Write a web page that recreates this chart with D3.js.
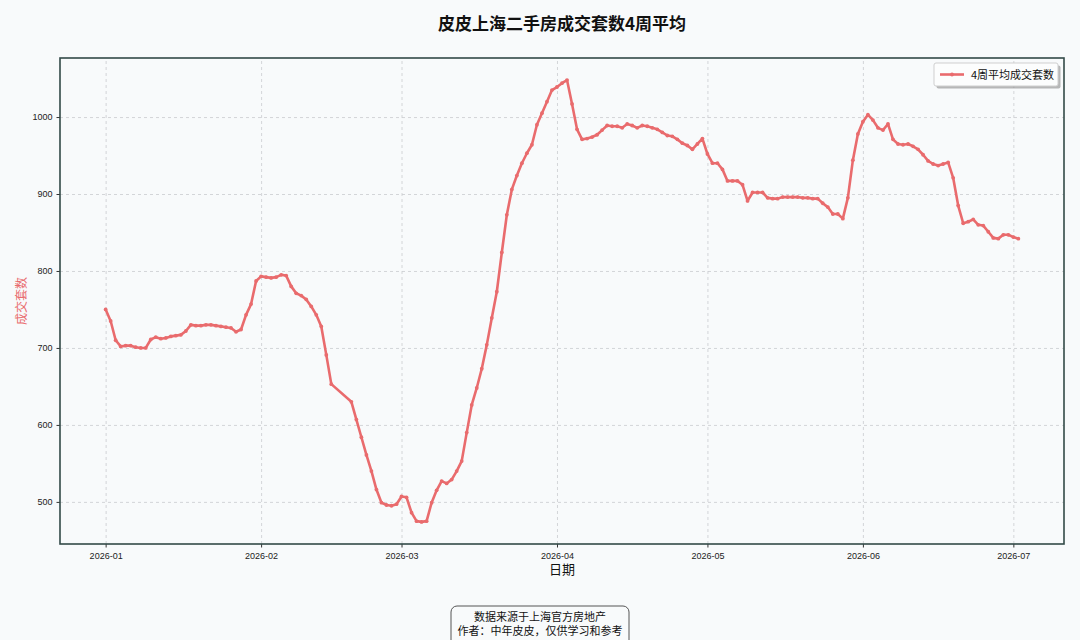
<!DOCTYPE html>
<meta charset="utf-8">
<style>
body { margin: 0; background: #f8fafb; }
svg { display: block; font-family: "Noto Sans CJK SC", "Noto Sans", sans-serif; }
.grid line { stroke: #c9cccf; stroke-dasharray: 3,3; stroke-width: 0.8; }
.axis path { display: none; }
.axis line { stroke: #333; }
.axis text { fill: #222; font-size: 9px; }
</style>
<svg width="1080" height="640"></svg>
<script src="https://d3js.org/d3.v7.min.js"></script>
<script>

// first day of the series, one value per day (null = no data that day)
var startDate = "2026-01-01";
var values = [
  750, 735, 710, 702, 703, 703, 701, 700, 700, 711,
  714, 712, 713, 715, 716, 717, 722, 730, 729, 729,
  730, 730, 729, 728, 727, 726, 721, 724, 743, 757,
  787, 793, 792, 791, 792, 795, 794, 780, 771, 768,
  763, 754, 743, 728, 691, 653, null, null, null, 630,
  607, 584, 561, 540, 516, 499, 496, 495, 497, 507,
  506, 486, 475, 474, 475, 499, 515, 527, 524, 529,
  540, 553, 590, 626, 648, 673, 704, 739, 773, 824,
  873, 906, 924, 940, 953, 964, 990, 1005, 1020, 1035,
  1039, 1044, 1048, 1017, 984, 971, 972, 974, 977, 983,
  989, 988, 988, 986, 991, 989, 986, 989, 988, 986,
  984, 980, 976, 975, 971, 966, 963, 958, 965, 972,
  952, 940, 940, 932, 917, 917, 917, 912, 891, 902,
  902, 902, 895, 894, 894, 896, 896, 896, 896, 895,
  895, 894, 894, 888, 883, 874, 874, 868, 895, 944,
  978, 994, 1003, 996, 986, 983, 991, 971, 965, 964,
  965, 962, 958, 951, 943, 939, 937, 939, 941, 921,
  885, 862, 864, 867, 860, 859, 851, 843, 842, 847,
  847, 844, 842
];
var yTicks = [500, 600, 700, 800, 900, 1000];
var xTicks = ["2026-01-01", "2026-02-01", "2026-03-01", "2026-04-01", "2026-05-01", "2026-06-01", "2026-07-01"];

var title = "皮皮上海二手房成交套数4周平均";
var seriesName = "4周平均成交套数";
var footer = ["数据来源于上海官方房地产", "作者：中年皮皮，仅供学习和参考"];
var lineColor = "#e96b6d";

var parse = d3.utcParse("%Y-%m-%d");
var t0 = parse(startDate);
var data = [];
values.forEach(function(v, i) {
  if (v !== null) data.push({ date: d3.utcDay.offset(t0, i), value: v });
});

var svg = d3.select("svg");
var box = {left: 60, right: 1064, top: 58, bottom: 544};

// matplotlib-like 5% margins on both axes
var xe = d3.extent(data, function(d) { return d.date; });
var xpad = (xe[1] - xe[0]) * 0.05;
var x = d3.scaleUtc()
  .domain([new Date(+xe[0] - xpad), new Date(+xe[1] + xpad)])
  .range([box.left, box.right]);

var ye = d3.extent(data, function(d) { return d.value; });
var ypad = (ye[1] - ye[0]) * 0.05;
var y = d3.scaleLinear()
  .domain([ye[0] - ypad, ye[1] + ypad])
  .range([box.bottom, box.top]);

svg.append("rect")
  .attr("width", 1080).attr("height", 640)
  .attr("fill", "#f8fafb");

// grid
svg.append("g")
  .attr("class", "grid")
  .attr("transform", "translate(0," + box.bottom + ")")
  .call(d3.axisBottom(x).tickValues(xTicks.map(parse)).tickSize(-(box.bottom - box.top)).tickFormat(""))
  .call(function(g) { g.select(".domain").remove(); });

svg.append("g")
  .attr("class", "grid")
  .attr("transform", "translate(" + box.left + ",0)")
  .call(d3.axisLeft(y).tickValues(yTicks).tickSize(-(box.right - box.left)).tickFormat(""))
  .call(function(g) { g.select(".domain").remove(); });

// axes
svg.append("g")
  .attr("class", "axis")
  .attr("transform", "translate(0," + box.bottom + ")")
  .call(d3.axisBottom(x).tickValues(xTicks.map(parse)).tickSize(3.5).tickPadding(5)
    .tickFormat(d3.utcFormat("%Y-%m")));

svg.append("g")
  .attr("class", "axis")
  .attr("transform", "translate(" + box.left + ",0)")
  .call(d3.axisLeft(y).tickValues(yTicks).tickSize(3.5).tickPadding(4).tickFormat(d3.format("d")));

// series
var line = d3.line()
  .x(function(d) { return x(d.date); })
  .y(function(d) { return y(d.value); });

svg.append("path")
  .datum(data)
  .attr("fill", "none")
  .attr("stroke", lineColor)
  .attr("stroke-width", 2.6)
  .attr("stroke-linejoin", "round")
  .attr("d", line);

svg.append("g")
  .selectAll("circle")
  .data(data)
  .enter().append("circle")
  .attr("cx", function(d) { return x(d.date); })
  .attr("cy", function(d) { return y(d.value); })
  .attr("r", 1.9)
  .attr("fill", lineColor);

// frame
svg.append("rect")
  .attr("x", box.left).attr("y", box.top)
  .attr("width", box.right - box.left).attr("height", box.bottom - box.top)
  .attr("fill", "none")
  .attr("stroke", "#324a48")
  .attr("stroke-width", 1.6);

// titles
svg.append("text")
  .attr("x", 562).attr("y", 30)
  .attr("text-anchor", "middle")
  .attr("font-size", 17).attr("font-weight", "bold")
  .attr("fill", "#111")
  .text(title);

svg.append("text")
  .attr("x", 562).attr("y", 574)
  .attr("text-anchor", "middle")
  .attr("font-size", 13)
  .attr("fill", "#111")
  .text("日期");

svg.append("text")
  .attr("transform", "translate(26," + ((box.top + box.bottom) / 2) + ") rotate(-90)")
  .attr("text-anchor", "middle")
  .attr("font-size", 12)
  .attr("fill", lineColor)
  .text("成交套数");

// legend
var lg = svg.append("g").attr("transform", "translate(934,63)");
lg.append("rect")
  .attr("x", 2.5).attr("y", 2.5).attr("width", 124).attr("height", 23).attr("rx", 2)
  .attr("fill", "#8a8a8a").attr("opacity", 0.6);
lg.append("rect")
  .attr("width", 124).attr("height", 23).attr("rx", 2)
  .attr("fill", "#fcfdfd").attr("stroke", "#cfcfcf");
lg.append("line")
  .attr("x1", 6).attr("x2", 30).attr("y1", 11.5).attr("y2", 11.5)
  .attr("stroke", lineColor).attr("stroke-width", 2.6);
lg.append("circle")
  .attr("cx", 18).attr("cy", 11.5).attr("r", 1.9).attr("fill", lineColor);
lg.append("text")
  .attr("x", 37).attr("y", 15.5)
  .attr("font-size", 11).attr("fill", "#111")
  .text(seriesName);

// footer note
var fb = svg.append("g").attr("transform", "translate(540,0)");
fb.append("rect")
  .attr("x", -89).attr("y", 606).attr("width", 178).attr("height", 42).attr("rx", 6)
  .attr("fill", "#f8fafb").attr("stroke", "#555").attr("stroke-width", 1);
fb.selectAll("text.note")
  .data(footer)
  .enter().append("text")
  .attr("class", "note")
  .attr("x", 0)
  .attr("y", function(d, i) { return 621 + i * 14; })
  .attr("text-anchor", "middle")
  .attr("font-size", 11)
  .attr("fill", "#111")
  .text(function(d) { return d; });

</script>
